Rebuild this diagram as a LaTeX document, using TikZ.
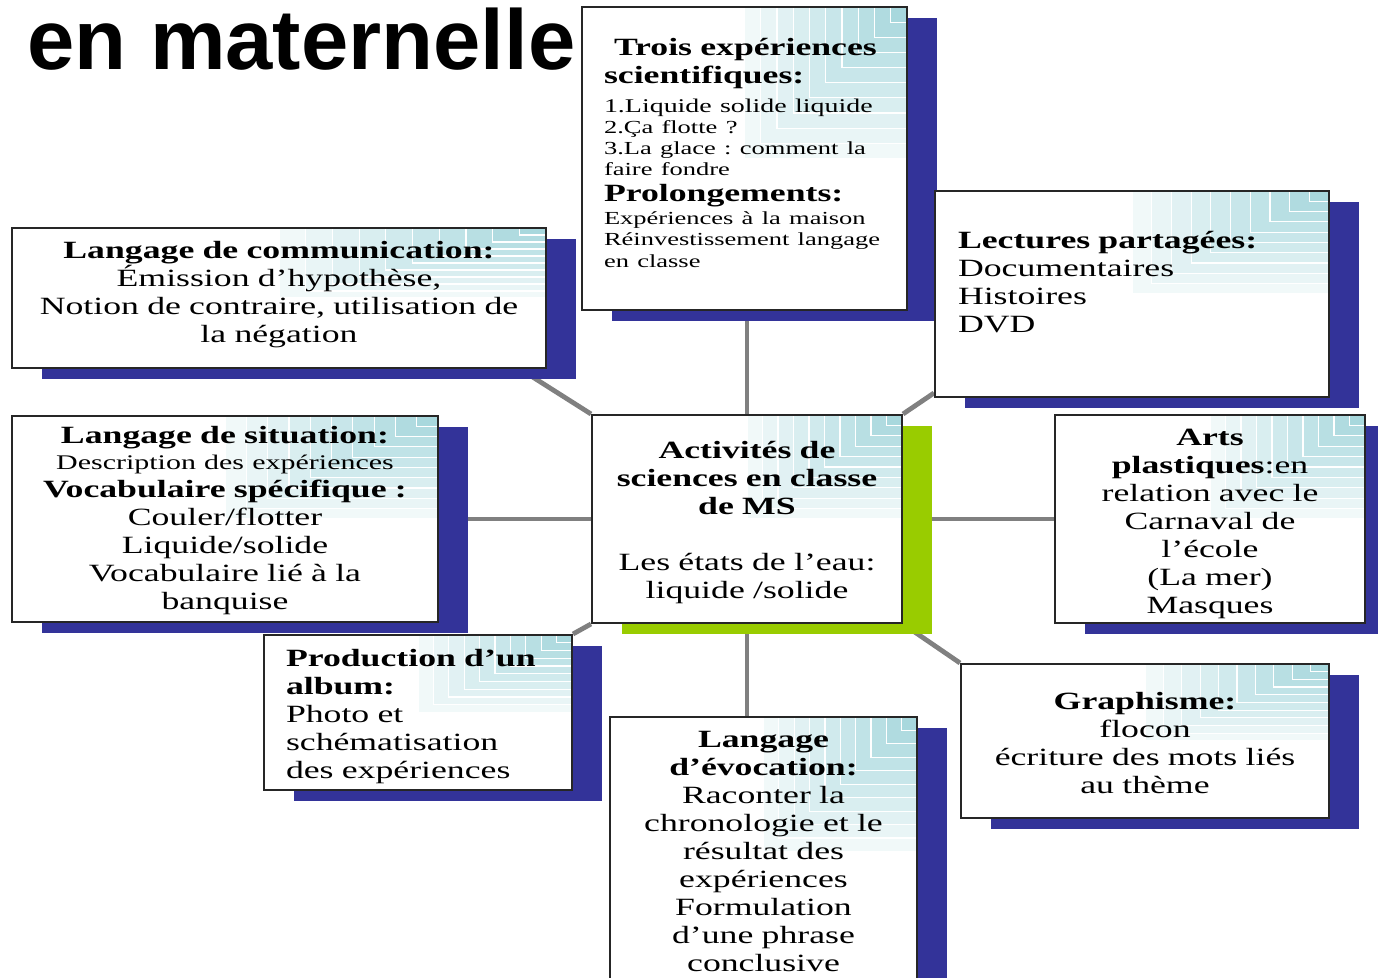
\documentclass[tikz,border=0pt]{standalone}
\usepackage{fontspec}
\setmainfont{Liberation Serif}[FakeStretch=1.44]
\newfontfamily\titlefont{Liberation Sans}
\usetikzlibrary{shadows,backgrounds,calc}
\frenchspacing
\definecolor{shadowblue}{RGB}{51,51,153}
\definecolor{centergreen}{RGB}{153,204,0}
\definecolor{linkgray}{RGB}{128,128,128}
\definecolor{cornerteal}{RGB}{160,212,218}
\newcommand\txtmain{\fontsize{12.4}{14}\selectfont}
\newcommand\txtsmall{\fontsize{9.2}{10.6}\selectfont}
\newcommand\txtdesc{\fontsize{10.4}{13}\selectfont}
\newcommand\lowpad[1]{\rule[-#1]{0pt}{#1}}
\newcommand\toppad[1]{\rule{0pt}{#1}}
\tikzset{
 card/.style={draw=black!85, line width=1pt, fill=white, inner xsep=4pt, inner ysep=2pt,
  font=\txtmain, align=center,
  drop shadow={shadow xshift=15pt, shadow yshift=-5.5pt, fill=#1, opacity=1},
  path picture={
   \foreach \k [evaluate=\k as \pct using 100-8.5*\k] in {10,...,1}
    \filldraw[fill=cornerteal!\pct!white, draw=white, line width=0.6pt]
     ($(path picture bounding box.north east)!\k/10!(path picture bounding box.center)$)
     rectangle (path picture bounding box.north east);
  }},
 card/.default=shadowblue,
 link/.style={linkgray, line width=2.4pt}
}
\begin{document}
\begin{tikzpicture}[x=0.5pt, y=-0.5pt]
 \useasboundingbox (0,0) rectangle (1378,978);
 \clip (0,0) rectangle (1378,978);
 \node[font=\titlefont\bfseries\fontsize{42.5}{48}\selectfont, anchor=base west, inner sep=0] (title) at (27,70) {en maternelle};

 \node[card, align=left, text width=140.5pt, minimum width=162.5pt, minimum height=151.5pt] (trois) at (744.5,158.5)
  {{\bfseries\hspace*{5pt}Trois expériences\\ scientifiques:\par}
   \vspace{3.9pt}
   {\txtsmall{\fontsize{9.7}{10.6}\selectfont 1.Liquide solide liquide}\\ 2.Ça flotte ?\\ 3.La glace : comment la\\ faire fondre\par}
   \vspace{-1pt}
   {\bfseries Prolongements:\par}
   \vspace{0.9pt}
   {\txtsmall Expériences à la maison\\ Réinvestissement~langage\\ en classe\lowpad{6pt}\par}};
 \node[card, text width=259pt, minimum width=267pt, minimum height=70pt] (comm) at (279,298)
  {\textbf{Langage de communication:}\\ Émission d’hypothèse,\\ Notion de contraire, utilisation de\\ la négation\lowpad{6.2pt}};
 \node[card, align=left, text width=174pt, minimum width=197pt, minimum height=103pt] (lect) at (1132,294)
  {\textbf{Lectures partagées:}\\ Documentaires\\ Histoires\\ DVD\lowpad{12pt}};
 \node[card, text width=205pt, minimum width=213pt, minimum height=103pt] (sit) at (225,519)
  {{\bfseries\toppad{10pt}Langage de situation:\par}
   {\txtdesc Description des expériences\par}
   \textbf{Vocabulaire spécifique :}\\ Couler/flotter\\ Liquide/solide\\ Vocabulaire lié à la\\ banquise};
 \node[card=centergreen, text width=147pt, minimum width=155pt, minimum height=104pt] (central) at (747,519)
  {{\bfseries\toppad{12.5pt}Activités de\\ sciences en classe\\ de MS\par}
   \vspace{14pt}
   Les états de l’eau:\\ liquide /solide};
 \node[card, text width=147pt, minimum width=155pt, minimum height=104pt] (arts) at (1210,519)
  {\textbf{\toppad{13.3pt}Arts}\\ \textbf{plastiques}:en\\ relation avec le\\ Carnaval de\\ l’école\\ (La mer)\\ Masques};
 \node[card, align=left, text width=132pt, minimum width=154pt, minimum height=77.5pt] (prod) at (418,712.5)
  {\textbf{\toppad{12.5pt}Production d’un}\\ \textbf{album:}\\ Photo et\\ schématisation\\ des expériences};
 \node[card, text width=145.5pt, minimum width=153.5pt, minimum height=134.5pt] (evoc) at (763.5,851.5)
  {\textbf{Langage}\\ \textbf{d’évocation:}\\ Raconter la\\ chronologie et le\\ résultat des\\ expériences\\ Formulation\\ d’une phrase\\ conclusive};
 \node[card, text width=176pt, minimum width=184pt, minimum height=77pt] (graph) at (1145,741)
  {\textbf{\toppad{10.5pt}Graphisme:}\\ flocon\\ écriture des mots liés\\ au thème};

 \begin{scope}[on background layer]
  \draw[link] (central.north) -- (central.north |- trois.south);
  \draw[link] (central.south) -- (central.south |- evoc.north);
  \draw[link] (central.west) -- (sit.east);
  \draw[link] (central.east) -- (arts.west);
  \draw[link] (central.north west) -- ([xshift=-13.5pt]comm.south east);
  \draw[link] (central.north east) -- ([yshift=2.5pt]lect.south west);
  \draw[link] (central.south west) -- (prod.north east);
  \draw[link] (central.south east) -- (graph.north west);
 \end{scope}
\end{tikzpicture}
\end{document}
